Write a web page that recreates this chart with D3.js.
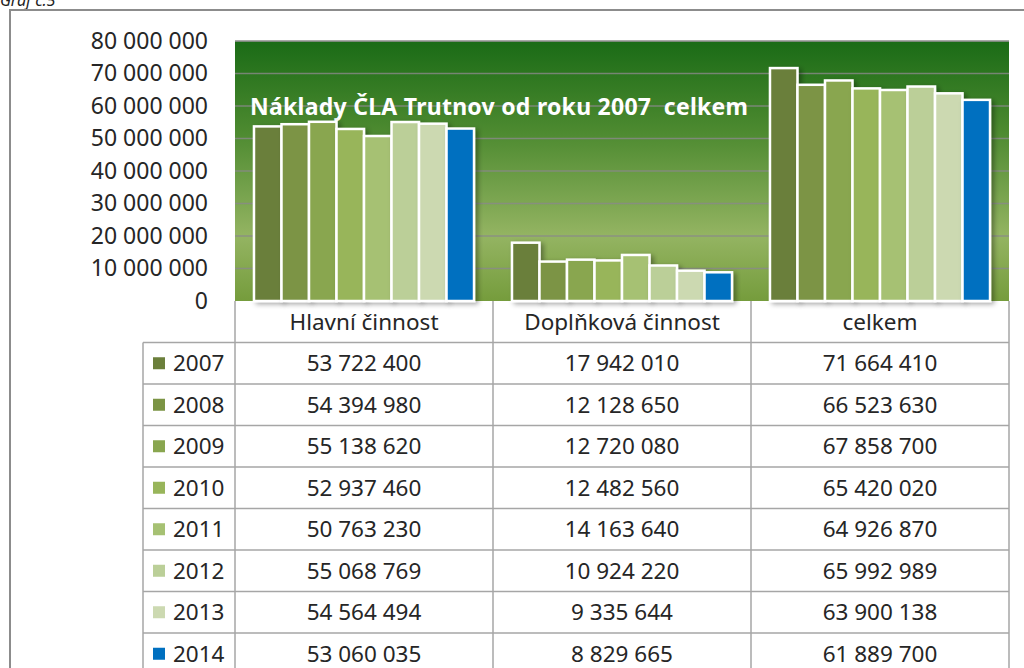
<!DOCTYPE html>
<html>
<head>
<meta charset="utf-8">
<script src="https://cdn.jsdelivr.net/npm/d3@7"></script>
<style>
  body { margin: 0; background: #fff; }
  svg { display: block; font-family: "Noto Sans", sans-serif; }
</style>
</head>
<body>
<svg id="chart" width="1024" height="668"></svg>
<script>
// data
var categories = ["Hlavní činnost", "Doplňková činnost", "celkem"];
var years = ["2007", "2008", "2009", "2010", "2011", "2012", "2013", "2014"];
var hlavni = [53722400, 54394980, 55138620, 52937460, 50763230, 55068769, 54564494, 53060035];
var doplnkova = [17942010, 12128650, 12720080, 12482560, 14163640, 10924220, 9335644, 8829665];
var celkem = [71664410, 66523630, 67858700, 65420020, 64926870, 65992989, 63900138, 61889700];
var yTicks = [0, 10000000, 20000000, 30000000, 40000000, 50000000, 60000000, 70000000, 80000000];
var title = "Náklady ČLA Trutnov od roku 2007  celkem";

var yearColors = ["#6b7f3b", "#7b9444", "#89a64f", "#98b55a", "#a6c173", "#bbcf98", "#ccd9b1", "#0070c0"];
var series = [hlavni, doplnkova, celkem];

var svg = d3.select("#chart");
var plot = {left: 235, right: 1009, top: 41, bottom: 301};
var rowH = 41.5;
var gridColor = "#a6a6a6";
var txtColor = "#262626";
var fs = "22.5px";
var fmt = function(v) { return d3.format(",")(v).replace(/,/g, " "); };

var defs = svg.append("defs");
var grad = defs.append("linearGradient")
    .attr("id", "bg").attr("x1", 0).attr("y1", 0).attr("x2", 0).attr("y2", 1);
grad.append("stop").attr("offset", "0%").attr("stop-color", "#1a6b16");
grad.append("stop").attr("offset", "35%").attr("stop-color", "#4d8a30");
grad.append("stop").attr("offset", "75%").attr("stop-color", "#94b462");
grad.append("stop").attr("offset", "100%").attr("stop-color", "#759c3c");

var shadow = defs.append("filter").attr("id", "shadow")
    .attr("x", "-20%").attr("y", "-20%").attr("width", "150%").attr("height", "150%");
shadow.append("feDropShadow")
    .attr("dx", 3).attr("dy", 2).attr("stdDeviation", 2.5)
    .attr("flood-color", "#000").attr("flood-opacity", 0.35);

// caption, cut at the top edge like in the source
svg.append("text")
    .attr("x", 0).attr("y", 6)
    .style("font-size", "16px").style("font-style", "italic").style("fill", "#222")
    .text("Graf č.5");

// outer frame
svg.append("rect")
    .attr("x", 10).attr("y", 10).attr("width", 1030).attr("height", 700)
    .attr("fill", "none").attr("stroke", "#8c8c8c").attr("stroke-width", 2);

// scales
var x0 = d3.scaleBand().domain(categories).range([plot.left, plot.right]);
var x1 = d3.scaleBand().domain(years).range([0, x0.bandwidth()])
    .paddingInner(0).paddingOuter(0.69);
var y = d3.scaleLinear().domain([0, 80000000]).range([plot.bottom, plot.top]);

// plot background
svg.append("rect")
    .attr("x", plot.left).attr("y", plot.top)
    .attr("width", plot.right - plot.left).attr("height", plot.bottom - plot.top)
    .attr("fill", "url(#bg)");

// gridlines
svg.append("g")
    .selectAll("line")
    .data(yTicks.slice(1))
    .join("line")
    .attr("x1", plot.left).attr("x2", plot.right)
    .attr("y1", function(d) { return y(d); }).attr("y2", function(d) { return y(d); })
    .attr("stroke", "#8a8a8a").attr("stroke-opacity", 0.8).attr("stroke-width", 1.5);

svg.append("line")
    .attr("x1", plot.left).attr("x2", plot.right)
    .attr("y1", plot.top).attr("y2", plot.top)
    .attr("stroke", "#9a9a9a").attr("stroke-width", 1);

// y axis labels
var yAxis = d3.axisLeft(y).tickValues(yTicks).tickSize(0).tickPadding(27).tickFormat(fmt);
var yg = svg.append("g").attr("transform", "translate(" + plot.left + ",0)").call(yAxis);
yg.select(".domain").remove();
yg.selectAll("text")
    .style("font-family", "'Noto Sans', sans-serif")
    .style("font-size", "23px").style("fill", txtColor);

// title (double space kept)
svg.append("text")
    .attr("x", 250).attr("y", 115)
    .attr("textLength", 498).attr("lengthAdjust", "spacing")
    .style("white-space", "pre")
    .style("font-size", "23px").style("font-weight", "bold").style("fill", "#fff")
    .text(title);

// bars
var groups = svg.append("g").selectAll("g")
    .data(categories)
    .join("g")
    .attr("transform", function(d) { return "translate(" + x0(d) + ",0)"; });

groups.selectAll("rect")
    .data(function(d, i) {
        return series[i].map(function(v, j) { return {year: years[j], value: v, color: yearColors[j]}; });
    })
    .join("rect")
    .attr("x", function(d) { return x1(d.year); })
    .attr("y", function(d) { return y(d.value); })
    .attr("width", x1.bandwidth())
    .attr("height", function(d) { return plot.bottom - y(d.value); })
    .attr("fill", function(d) { return d.color; })
    .attr("stroke", "#fff").attr("stroke-width", 2.5)
    .attr("filter", "url(#shadow)");

// data table
var tbl = svg.append("g");
var tableTop = plot.bottom;
var headerBottom = tableTop + rowH;
var tableBottom = headerBottom + rowH * years.length;
var legendLeft = 143;

// header row
tbl.selectAll("text.head")
    .data(categories)
    .join("text")
    .attr("class", "head")
    .attr("x", function(d) { return x0(d) + x0.bandwidth() / 2; })
    .attr("y", tableTop + rowH / 2 + 8)
    .attr("text-anchor", "middle")
    .style("font-size", fs).style("fill", txtColor)
    .text(function(d) { return d; });

// row labels with colour keys
var rows = tbl.selectAll("g.row")
    .data(years)
    .join("g")
    .attr("class", "row")
    .attr("transform", function(d, i) { return "translate(0," + (headerBottom + i * rowH) + ")"; });

rows.append("rect")
    .attr("x", 153).attr("y", rowH / 2 - 6)
    .attr("width", 12).attr("height", 12)
    .attr("fill", function(d, i) { return yearColors[i]; });

rows.append("text")
    .attr("x", 173).attr("y", rowH / 2 + 8)
    .style("font-size", fs).style("fill", txtColor)
    .text(function(d) { return d; });

rows.selectAll("text.val")
    .data(function(d, i) { return series.map(function(s, k) { return {cat: categories[k], value: s[i]}; }); })
    .join("text")
    .attr("class", "val")
    .attr("x", function(d) { return x0(d.cat) + x0.bandwidth() / 2; })
    .attr("y", rowH / 2 + 8)
    .attr("text-anchor", "middle")
    .style("font-size", fs).style("fill", txtColor)
    .text(function(d) { return fmt(d.value); });

// table lines
var hLines = d3.range(years.length + 1).map(function(i) { return headerBottom + i * rowH; });
tbl.selectAll("line.h")
    .data(hLines)
    .join("line")
    .attr("class", "h")
    .attr("x1", legendLeft).attr("x2", plot.right)
    .attr("y1", function(d) { return d; }).attr("y2", function(d) { return d; })
    .attr("stroke", gridColor).attr("stroke-width", 1.5);

var vLines = [plot.left].concat(categories.map(function(c) { return x0(c) + x0.bandwidth(); }));
tbl.selectAll("line.v")
    .data(vLines)
    .join("line")
    .attr("class", "v")
    .attr("x1", function(d) { return d; }).attr("x2", function(d) { return d; })
    .attr("y1", tableTop).attr("y2", tableBottom)
    .attr("stroke", gridColor).attr("stroke-width", 1.5);

tbl.append("line")
    .attr("x1", legendLeft).attr("x2", legendLeft)
    .attr("y1", headerBottom).attr("y2", tableBottom)
    .attr("stroke", gridColor).attr("stroke-width", 1.5);
</script>
</body>
</html>
